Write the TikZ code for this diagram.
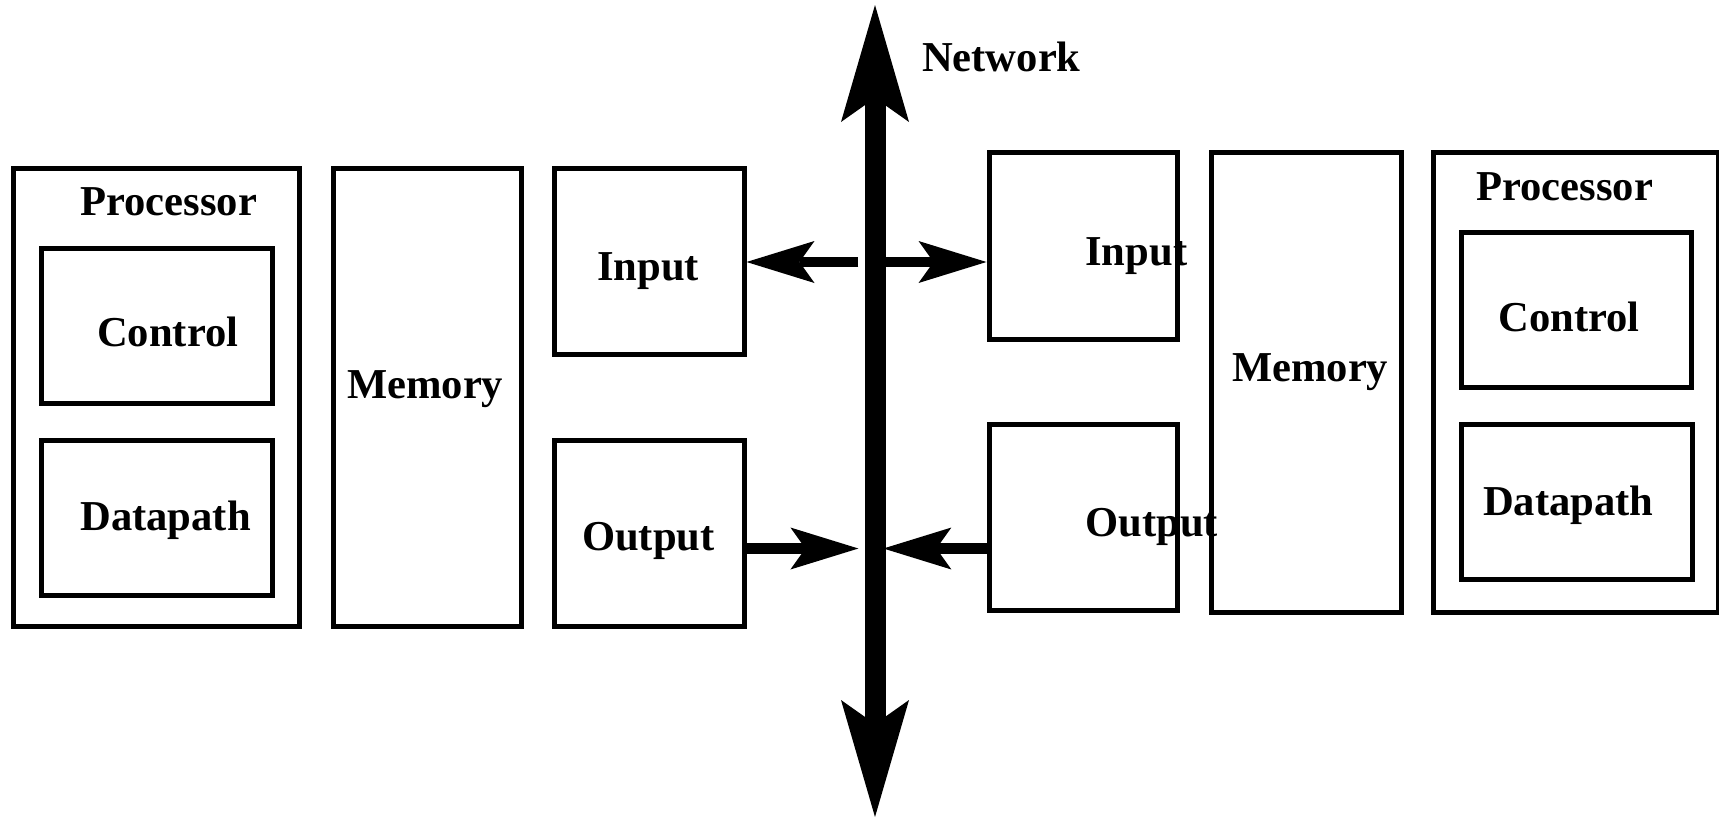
\documentclass[tikz,border=0pt]{standalone}
\usepackage{fontspec}
\setmainfont{Liberation Serif}
\usetikzlibrary{arrows.meta}

\begin{document}
\begin{tikzpicture}[x=0.5pt,y=0.5pt,yscale=-1,xscale=1,
  blk/.style={draw, line width=2.5pt, inner sep=0pt},
  lbl/.style={anchor=base west, inner sep=0pt, font=\bfseries\fontsize{21.3pt}{25pt}\selectfont},
  bushead/.tip={Stealth[length=58.5pt,width=34pt,inset=12pt,line width=0pt]},
  linkhead/.tip={Stealth[length=34pt,width=21pt,inset=7.5pt,line width=0pt]},
  bus/.style={line width=10.5pt, bushead-bushead},
  link/.style={line width=5.25pt, -linkhead}]
\useasboundingbox (0,0) rectangle (1719,819);

%Shape: left machine
\node[blk, minimum width=142.75pt, minimum height=229pt] (lproc) at (156.25,397.5) {};
\node[blk, minimum width=115.5pt, minimum height=77.5pt] (lctrl) at (156.5,325.5) {};
\node[blk, minimum width=115.5pt, minimum height=77.5pt] (ldata) at (156.5,517.5) {};
\node[blk, minimum width=94.25pt, minimum height=229pt] (lmem) at (427.25,397.5) {};
\node[blk, minimum width=94.75pt, minimum height=92.75pt] (lin) at (649.25,261.25) {};
\node[blk, minimum width=94.75pt, minimum height=93pt] (lout) at (649.25,533.5) {};

%Shape: right machine
\node[blk, minimum width=94.25pt, minimum height=93.25pt] (rin) at (1083.25,245.75) {};
\node[blk, minimum width=94.25pt, minimum height=93.25pt] (rout) at (1083.25,517.25) {};
\node[blk, minimum width=94.75pt, minimum height=229.75pt] (rmem) at (1306.25,382.25) {};
\node[blk, minimum width=142.25pt, minimum height=229.75pt] (rproc) at (1575.75,382.25) {};
\node[blk, minimum width=115pt, minimum height=77.25pt] (rctrl) at (1576.5,309.75) {};
\node[blk, minimum width=115.25pt, minimum height=77.25pt] (rdata) at (1576.75,501.75) {};

%Network bus
\coordinate (nettop) at (875,5);
\coordinate (netbot) at (875,817);
\coordinate (netin) at (875,262);
\coordinate (netout) at (875,548.5);
\draw[bus] (netbot) -- (nettop);

%Straight Lines
\draw[link, shorten <=8.3pt] (netin) -- (netin -| lin.east);
\draw[link] (netin) -- (netin -| rin.west);
\draw[link, shorten >=8.3pt] (netout -| lout.east) -- (netout);
\draw[link, shorten >=4.2pt] (netout -| rout.west) -- (netout);

% Text Node
\node[lbl] (tnet) at (921.7,71.7) {Network};
\node[lbl] (tlproc) at (80,215) {Processor};
\node[lbl] (tlctrl) at (96.7,346.7) {Control};
\node[lbl] (tldata) at (80,530) {Datapath};
\node[lbl] (tlmem) at (346.7,398.3) {Memory};
\node[lbl] (tlin) at (596.7,280) {Input};
\node[lbl] (tlout) at (581.7,550) {Output};
\node[lbl] (trin) at (1085,265) {Input};
\node[lbl] (trout) at (1085,536.7) {Output};
\node[lbl] (trmem) at (1231.7,381.7) {Memory};
\node[lbl] (trproc) at (1476,200) {Processor};
\node[lbl] (trctrl) at (1498,331.7) {Control};
\node[lbl] (trdata) at (1482.7,515) {Datapath};

\end{tikzpicture}
\end{document}
